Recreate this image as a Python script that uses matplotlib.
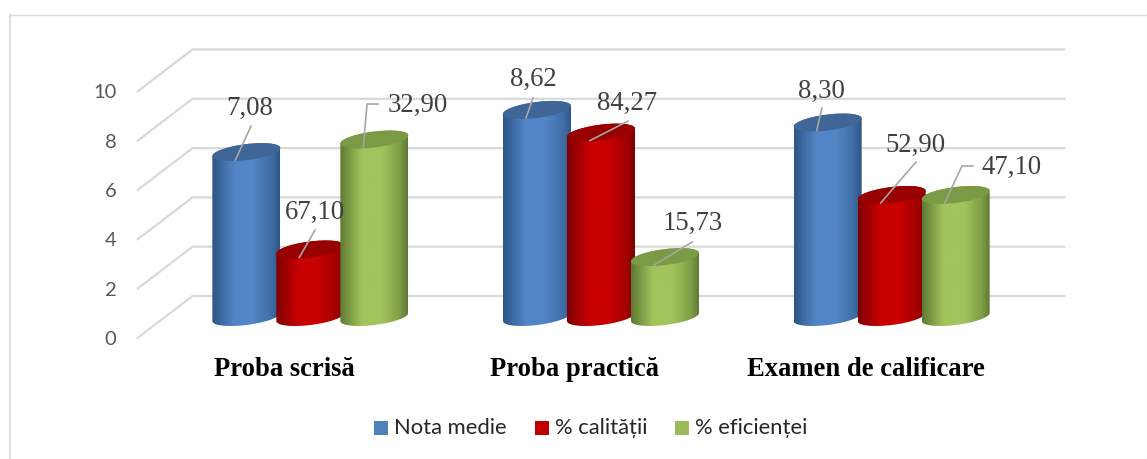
import numpy as np
import matplotlib
matplotlib.use("Agg")
import matplotlib.pyplot as plt
from matplotlib.colors import LinearSegmentedColormap, to_rgb
from matplotlib.patches import Polygon, Rectangle

W, H = 1147, 459

categories = ["Proba scrisă", "Proba practică", "Examen de calificare"]
series = ["Nota medie", "% calității", "% eficienței"]

# bar heights as they look on the value axis (the printed labels do not all match them)
nota_heights = [6.69, 8.4, 7.89]
calitate_heights = [2.74, 7.48, 4.95]
eficienta_heights = [7.2, 2.43, 4.95]

nota_labels = ["7,08", "8,62", "8,30"]
calitate_labels = ["67,10", "84,27", "52,90"]
eficienta_labels = ["32,90", "15,73", "47,10"]

y_ticks = [0, 2, 4, 6, 8, 10]

light = ["#5285c6", "#c80000", "#a2c45c"]
dark = ["#2d5585", "#7d0000", "#5f7a33"]
top = ["#3f6696", "#980000", "#7b9a45"]
legend_col = ["#4f81bd", "#c00000", "#9bbb59"]

# label centre and leader end, pixels from the centre of the bar top
nota_off = [(3.7, 44), (-4, 31), (-6.7, 31.5)]
calitate_off = [(4.7, 37.5), (26, 29.5), (23.3, 50)]
eficienta_off = [(43.7, 34.5), (28, 34), (56.3, 28)]
nota_lead = [(4.7, 26), (-4, 12), (-5.7, 14.5)]
calitate_lead = [(4.7, 19.5), (27, 11.5), (24.3, 33)]
eficienta_lead = [(3.7, 35.5), (27, 15), (17.3, 29)]

fig = plt.figure(figsize=(W / 100, H / 100), dpi=100)

# frame around the chart, open on the right and at the bottom
bg = fig.add_axes([0, 0, 1, 1])
bg.set_xlim(0, W)
bg.set_ylim(H, 0)
bg.axis("off")
bg.plot([10, 10], [H, 14.5], color="#e0e0e0", lw=1.6)
bg.plot([10, W], [14.5, 14.5], color="#d9d9d9", lw=1)

# the axes box is the middle of the chart's depth
left, right = 165, 1037
y0, y10 = 317, 70.5
ax = fig.add_axes([left / W, 1 - y0 / H, (right - left) / W, (y0 - y10) / H])
ax.axis("off")
px_x = 3 / (right - left)
px_y = 10 / (y0 - y10)

depth_x = 27.5 * px_x
depth_y = 21 * px_y
grid_kw = dict(color="#d9d9d9", lw=1.6, zorder=1, clip_on=False, solid_capstyle="round")
for t in y_ticks:
    ax.plot([-0.5 - depth_x, -0.5 + depth_x, 2.5 + depth_x],
            [t - depth_y, t + depth_y, t + depth_y], **grid_kw)
    ax.text(-0.5 - depth_x - 21 * px_x, t - depth_y, str(t), ha="right", va="center_baseline",
            fontsize=14.5, color="#595959", family="Lato", clip_on=False)


def cylinder(xc, h, i):
    a, b, shear = 34, 8, 0.12
    t = np.linspace(0, np.pi, 60)
    # lower half of the base ellipse, left to right
    bx = -a * np.cos(t)
    by = shear * bx - b * np.sin(t)
    # upper half of the top ellipse, right to left
    tx = a * np.cos(t)
    ty = shear * tx + b * np.sin(t)
    xs = np.r_[bx, tx] * px_x + xc
    ys = np.r_[by * px_y, h + ty * px_y]
    body = Polygon(np.c_[xs, ys], closed=True, fc="none", ec="none", clip_on=False, zorder=3 + i)
    ax.add_patch(body)
    mid = 0.5 * (np.array(to_rgb(light[i])) + np.array(to_rgb(dark[i])))
    cmap = LinearSegmentedColormap.from_list(
        "c", [(0, dark[i]), (0.32, light[i]), (0.62, light[i]), (0.88, mid), (1, dark[i])])
    img = ax.imshow(np.linspace(0, 1, 128).reshape(1, -1), cmap=cmap, aspect="auto",
                    extent=[xc - a * px_x, xc + a * px_x, -2, 11], zorder=3 + i)
    img.set_clip_box(fig.bbox)
    img.set_clip_path(body)
    t2 = np.linspace(0, 2 * np.pi, 120)
    ex = a * np.cos(t2)
    ey = shear * ex + b * np.sin(t2)
    ax.fill(xc + ex * px_x, h + ey * px_y, color=top[i], lw=0, zorder=3 + i)


def label(xc, h, txt, off, lead, hook):
    xs = [xc - 11 * px_x, xc + lead[0] * px_x]
    ys = [h - 8 * px_y, h + lead[1] * px_y]
    if hook:
        xs.insert(1, xs[1] - 11 * px_x)
        ys.insert(1, ys[1])
    ax.plot(xs, ys, color="#a6a6a6", lw=1.2, zorder=10)
    ax.text(xc + off[0] * px_x, h + off[1] * px_y, txt, ha="center", va="center",
            fontsize=19.3, color="#404040", family="Liberation Serif", zorder=11)


heights = [nota_heights, calitate_heights, eficienta_heights]
labels = [nota_labels, calitate_labels, eficienta_labels]
offsets = [nota_off, calitate_off, eficienta_off]
leads = [nota_lead, calitate_lead, eficienta_lead]
hooks = [[False] * 3, [False] * 3, [True, False, True]]
step = 64 * px_x
for i in range(3):
    for c in range(3):
        cylinder(c + (i - 1) * step, heights[i][c], i)
for i in range(3):
    for c in range(3):
        label(c + (i - 1) * step, heights[i][c], labels[i][c], offsets[i][c], leads[i][c], hooks[i][c])
ax.set_xlim(-0.5, 2.5)
ax.set_ylim(0, 10)

for c, name in enumerate(categories):
    ax.text(c - 0.09, (y0 - 369) * px_y, name, ha="center", va="center",
            fontsize=19.2, fontweight="bold", color="black", family="Liberation Serif", clip_on=False)

# legend
legend_x = [374, 535, 675]
for x, name, col in zip(legend_x, series, legend_col):
    bg.add_patch(Rectangle((x, 420.7), 14, 14, fc=col, ec="none"))
    bg.text(x + 20, 427.5, name, ha="left", va="center", fontsize=15.8, color="#262626",
            family="Lato")

fig.savefig("out.png", dpi=100)
